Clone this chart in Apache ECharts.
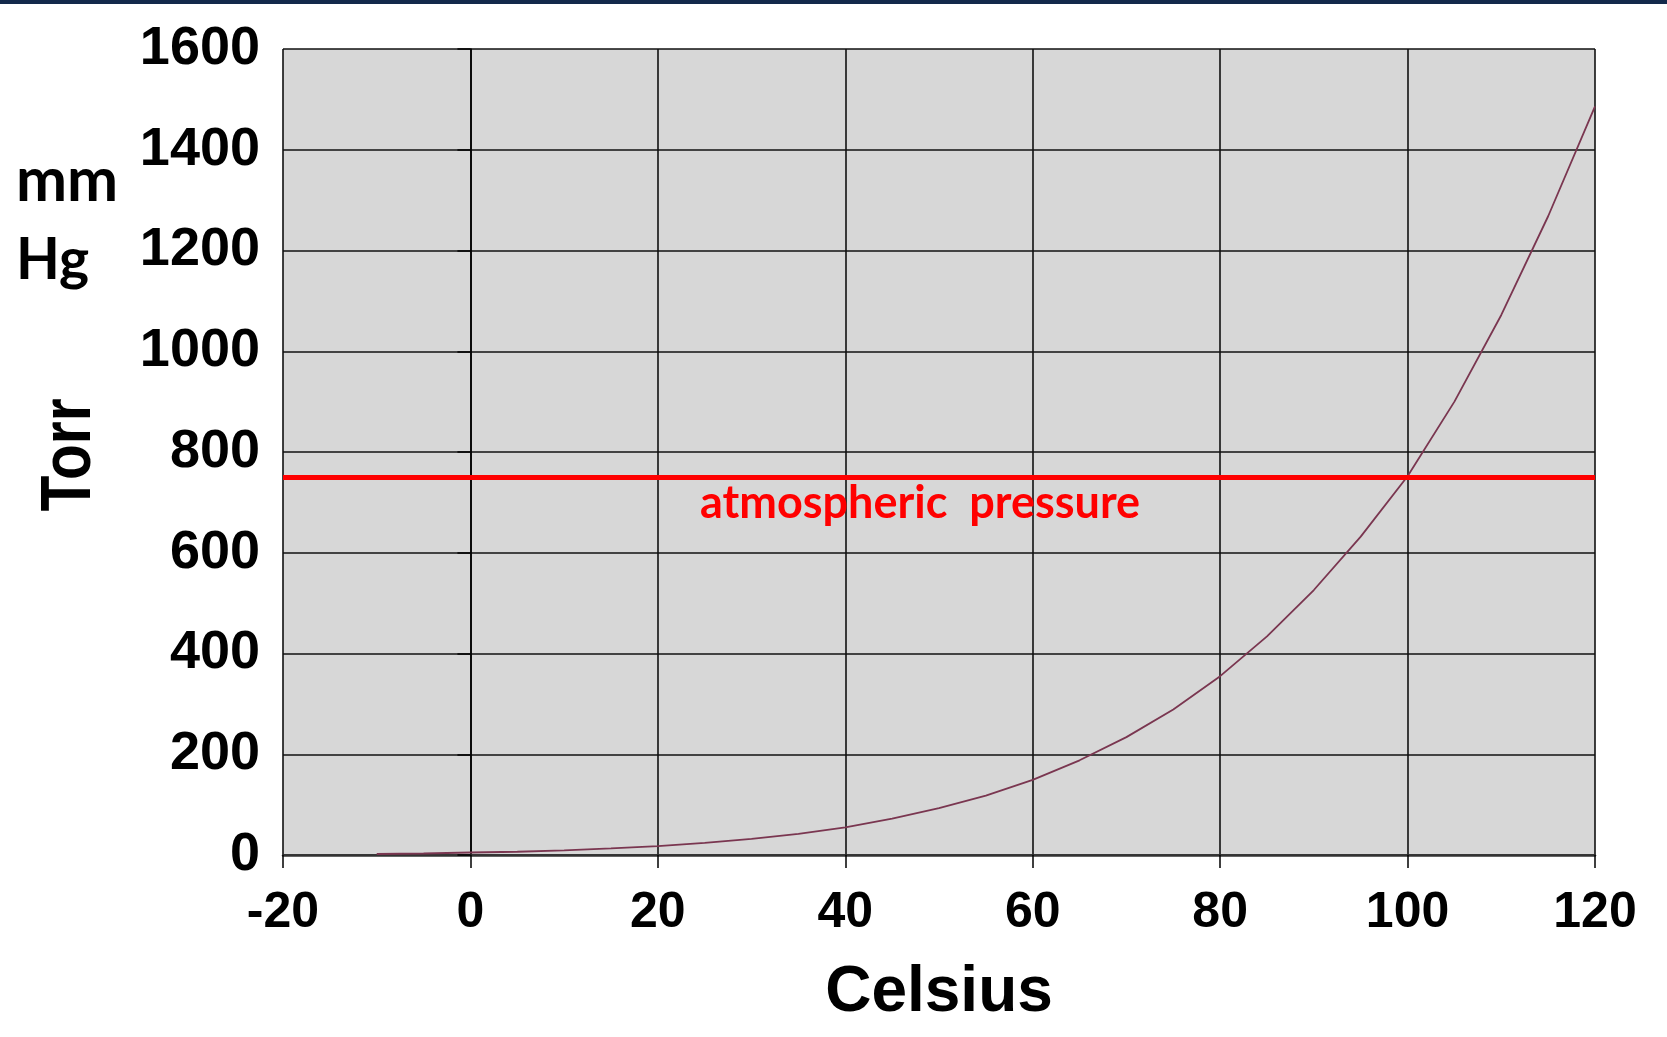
<!DOCTYPE html>
<html>
<head>
<meta charset="utf-8">
<title>Vapor pressure of water</title>
<script src="https://cdn.jsdelivr.net/npm/echarts@6/dist/echarts.min.js"></script>
<style>
  html, body { margin: 0; padding: 0; background: #fff; }
  #chart { width: 1667px; height: 1037px; }
</style>
</head>
<body>
<div id="chart"></div>
<script>
// temperatures (Celsius) and vapour pressure (Torr)
var temps = [-10, -5, 0, 5, 10, 15, 20, 25, 30, 35, 40, 45, 50, 55, 60, 65, 70, 75, 80, 85, 90, 95, 100, 105, 110, 115, 120];
var pressures = [2, 3, 5, 6.5, 9, 13, 17.5, 24, 32, 42, 55, 72, 93, 118, 149, 188, 234, 289, 355, 434, 526, 632, 752, 900, 1072, 1268, 1486];
var atmPressure = 750;
var xTicks = { min: -20, max: 120, step: 20 };
var yTicks = { min: 0, max: 1600, step: 200 };

(function () {
    var myChart = echarts.init(document.getElementById('chart'));

    var curve = [];
    for (var i = 0; i < temps.length; i++) {
        curve.push([temps[i], pressures[i]]);
    }

    var option = {
        animation: false,
        backgroundColor: '#fff',
        grid: {
            left: 283,
            right: 72,
            top: 49,
            bottom: 182,
            show: true,
            backgroundColor: '#d7d7d7',
            borderWidth: 0
        },
        xAxis: {
            type: 'value',
            min: xTicks.min,
            max: xTicks.max,
            interval: xTicks.step,
            name: 'Celsius',
            nameLocation: 'middle',
            nameGap: 106,
            nameTextStyle: {
                fontSize: 64,
                fontWeight: 'bold',
                fontFamily: 'Liberation Sans',
                color: '#000'
            },
            axisLine: { show: true, onZero: false, lineStyle: { color: '#333', width: 2.5 } },
            axisTick: { show: true, length: 13, lineStyle: { color: '#000', width: 1.5 } },
            axisLabel: {
                margin: 33,
                fontSize: 50,
                fontWeight: 'bold',
                fontFamily: 'Liberation Sans',
                color: '#000'
            },
            splitLine: { show: true, lineStyle: { color: '#111', width: 1.6 } }
        },
        yAxis: {
            type: 'value',
            min: yTicks.min,
            max: yTicks.max,
            interval: yTicks.step,
            axisLine: { show: true, lineStyle: { color: '#000', width: 1.6 } },
            axisTick: { show: true, length: 13, lineStyle: { color: '#000', width: 1.5 } },
            axisLabel: {
                margin: 23,
                fontSize: 54,
                fontWeight: 'bold',
                fontFamily: 'Liberation Sans',
                color: '#000',
                formatter: function (v) { return String(v); }
            },
            splitLine: { show: true, lineStyle: { color: '#111', width: 1.6 } }
        },
        series: [{
            type: 'line',
            data: curve,
            showSymbol: false,
            smooth: false,
            lineStyle: { color: '#7a3650', width: 1.8 },
            markLine: {
                silent: true,
                symbol: 'none',
                lineStyle: { color: '#ff0000', width: 5, type: 'solid' },
                label: {
                    show: true,
                    position: 'insideMiddleBottom',
                    formatter: 'atmospheric  pressure',
                    distance: 4,
                    padding: [0, 38, 0, 0],
                    fontSize: 45,
                    fontWeight: 'bold',
                    fontFamily: 'Lato',
                    color: '#ff0000'
                },
                data: [{ yAxis: atmPressure }]
            }
        }],
        graphic: [
            {
                type: 'rect',
                shape: { x: 0, y: 0, width: 1667, height: 4 },
                style: { fill: '#13294b' }
            },
            {
                type: 'text',
                x: 71,
                y: 455,
                rotation: Math.PI / 2,
                scaleX: 0.84,
                style: {
                    text: 'Torr',
                    font: 'bold 70px "Liberation Sans"',
                    fill: '#000',
                    align: 'center',
                    verticalAlign: 'middle'
                }
            },
            {
                type: 'text',
                x: 16,
                y: 181,
                style: {
                    text: 'mm',
                    font: 'bold 61px Lato',
                    fill: '#000',
                    align: 'left',
                    verticalAlign: 'middle'
                }
            },
            {
                type: 'text',
                x: 16,
                y: 261,
                style: {
                    text: 'Hg',
                    font: 'bold 57px Lato',
                    fill: '#000',
                    align: 'left',
                    verticalAlign: 'middle'
                }
            }
        ]
    };

    myChart.setOption(option);
})();
</script>
</body>
</html>
